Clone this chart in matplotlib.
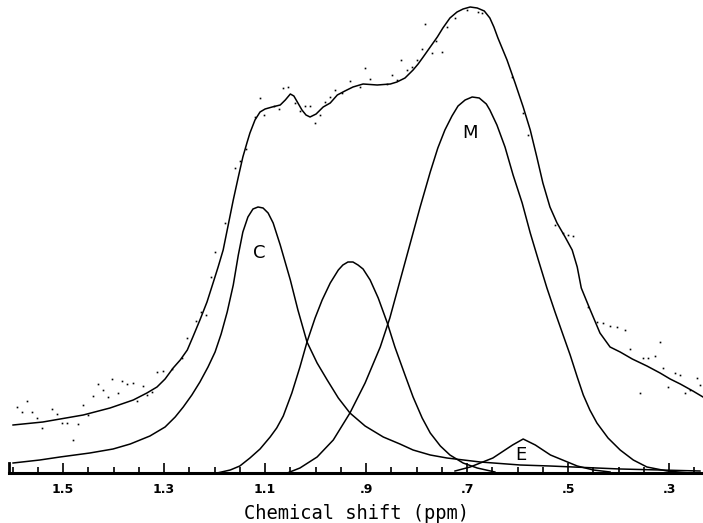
import matplotlib
matplotlib.use("Agg")
import matplotlib.pyplot as plt
from matplotlib.ticker import MultipleLocator, FixedLocator

# chemical shift (ppm) and intensity (arbitrary units)

# fitted total envelope
fit_ppm = [1.599, 1.540, 1.460, 1.407, 1.361, 1.334, 1.314, 1.298, 1.282, 1.268,
           1.254, 1.243, 1.229, 1.215, 1.203, 1.193, 1.183, 1.173, 1.163, 1.153,
           1.144, 1.136, 1.130, 1.120, 1.110, 1.100, 1.086, 1.070, 1.060, 1.050,
           1.043, 1.035, 1.027, 1.019, 1.011, 0.999, 0.985, 0.971, 0.957, 0.942,
           0.926, 0.906, 0.878, 0.852, 0.839, 0.823, 0.807, 0.797, 0.787, 0.773,
           0.759, 0.748, 0.734, 0.720, 0.708, 0.694, 0.680, 0.666, 0.655, 0.647,
           0.639, 0.621, 0.605, 0.589, 0.575, 0.562, 0.550, 0.536, 0.522, 0.506,
           0.492, 0.482, 0.474, 0.457, 0.437, 0.417, 0.397, 0.373, 0.344, 0.318,
           0.298, 0.278, 0.253, 0.233]
fit_int = [48, 51, 58, 65, 73, 80, 86, 94, 105, 113,
           123, 136, 153, 171, 190, 206, 223, 248, 273, 296,
           316, 330, 340, 353, 361, 364, 366, 368, 373, 379,
           377, 370, 363, 358, 356, 359, 366, 370, 378, 382,
           386, 389, 388, 389, 391, 395, 403, 409, 416, 426,
           436, 445, 455, 461, 464, 466, 465, 462, 455, 446,
           435, 413, 390, 366, 343, 316, 290, 266, 250, 236,
           223, 206, 185, 164, 140, 126, 121, 114, 107, 100,
           94, 89, 82, 76]

# component C
c_ppm = [1.599, 1.546, 1.506, 1.447, 1.401, 1.367, 1.328, 1.298, 1.278, 1.262,
         1.245, 1.229, 1.213, 1.199, 1.187, 1.175, 1.163, 1.153, 1.144, 1.134,
         1.124, 1.114, 1.104, 1.094, 1.084, 1.070, 1.050, 1.035, 1.017, 0.997,
         0.977, 0.955, 0.932, 0.902, 0.866, 0.833, 0.807, 0.773, 0.740, 0.674,
         0.595, 0.536, 0.397, 0.239]
c_int = [10, 13, 16, 20, 24, 29, 37, 46, 56, 66,
         78, 91, 106, 121, 139, 161, 188, 218, 241, 256,
         264, 266, 265, 260, 250, 228, 193, 163, 131, 110,
         93, 75, 60, 47, 36, 29, 23, 18, 15, 11,
         8, 7, 4, 2]

# unlabelled middle component
b_ppm = [1.195, 1.169, 1.150, 1.130, 1.110, 1.090, 1.077, 1.064, 1.047, 1.031,
         1.017, 1.001, 0.987, 0.971, 0.955, 0.946, 0.936, 0.926, 0.916, 0.906,
         0.892, 0.876, 0.858, 0.843, 0.823, 0.807, 0.789, 0.773, 0.753, 0.734,
         0.708, 0.680, 0.645]
b_int = [0, 3, 7, 15, 24, 36, 45, 57, 80, 106,
         131, 155, 173, 190, 203, 208, 211, 211, 208, 204,
         193, 175, 150, 126, 98, 76, 55, 40, 27, 18,
         10, 5, 1]

# component M
m_ppm = [1.056, 1.031, 0.997, 0.965, 0.932, 0.902, 0.872, 0.853, 0.833, 0.813,
         0.793, 0.773, 0.758, 0.744, 0.730, 0.718, 0.704, 0.690, 0.676, 0.662,
         0.655, 0.641, 0.625, 0.609, 0.591, 0.575, 0.559, 0.542, 0.526, 0.510,
         0.496, 0.482, 0.470, 0.457, 0.443, 0.421, 0.397, 0.371, 0.344, 0.304,
         0.259]
m_int = [0, 5, 16, 33, 60, 90, 126, 155, 192, 229,
         266, 301, 325, 343, 357, 367, 373, 376, 375, 369,
         363, 348, 326, 298, 270, 240, 213, 185, 161, 138,
         118, 96, 78, 63, 50, 35, 23, 13, 6, 2,
         0]

# component E
e_ppm = [0.724, 0.694, 0.649, 0.610, 0.589, 0.565, 0.535, 0.482, 0.450, 0.417]
e_int = [2, 6, 15, 28, 34, 28, 18, 7, 3, 1]

# experimental points
dot_ppm = [1.591, 1.581, 1.571, 1.561, 1.551, 1.542, 1.522, 1.512, 1.502, 1.492,
           1.480, 1.470, 1.460, 1.450, 1.441, 1.431, 1.421, 1.411, 1.403, 1.391,
           1.383, 1.373, 1.361, 1.353, 1.342, 1.334, 1.324, 1.314, 1.302, 1.284,
           1.264, 1.254, 1.237, 1.227, 1.217, 1.207, 1.199, 1.179, 1.159, 1.150,
           1.138, 1.120, 1.110, 1.102, 1.082, 1.072, 1.064, 1.054, 1.041, 1.031,
           1.021, 1.011, 1.001, 0.991, 0.981, 0.971, 0.961, 0.948, 0.932, 0.912,
           0.902, 0.892, 0.858, 0.849, 0.839, 0.831, 0.819, 0.809, 0.799, 0.789,
           0.783, 0.769, 0.761, 0.750, 0.740, 0.724, 0.700, 0.678, 0.670, 0.611,
           0.589, 0.579, 0.526, 0.510, 0.500, 0.490, 0.460, 0.443, 0.431, 0.417,
           0.403, 0.387, 0.377, 0.357, 0.352, 0.342, 0.328, 0.318, 0.312, 0.302,
           0.288, 0.278, 0.268, 0.259, 0.245, 0.239]
dot_int = [66, 61, 72, 61, 55, 45, 64, 59, 50, 50,
           33, 49, 68, 58, 77, 89, 83, 76, 94, 80,
           92, 89, 90, 72, 87, 78, 81, 101, 102, 104,
           115, 135, 152, 161, 158, 196, 221, 250, 305, 312,
           324, 356, 375, 358, 367, 364, 385, 386, 370, 362,
           367, 367, 350, 358, 371, 376, 383, 380, 392, 386,
           405, 394, 389, 398, 393, 413, 403, 406, 413, 424,
           449, 420, 432, 421, 446, 455, 463, 461, 460, 396,
           360, 338, 248, 240, 238, 237, 166, 151, 150, 147,
           146, 143, 124, 80, 115, 115, 117, 131, 105, 86,
           100, 98, 80, 83, 95, 88]

tick_pos = [1.5, 1.3, 1.1, 0.9, 0.7, 0.5, 0.3]
tick_lab = ['1.5', '1.3', '1.1', '.9', '.7', '.5', '.3']

fig = plt.figure(figsize=(7.03, 5.23), dpi=100)
ax = fig.add_axes([9 / 703, 50 / 523, 694 / 703, 473 / 523])

for xs, ys in [(fit_ppm, fit_int), (c_ppm, c_int), (b_ppm, b_int),
               (m_ppm, m_int), (e_ppm, e_int)]:
    ax.plot(xs, ys, color='black', lw=1.1, solid_joinstyle='round')
ax.plot(dot_ppm, dot_int, linestyle='none', marker='s', markersize=1.2,
        color='black', markeredgewidth=0)

ax.text(1.112, 220, 'C', fontsize=13, ha='center', va='center')
ax.text(0.694, 340, 'M', fontsize=13, ha='center', va='center')
ax.text(0.593, 18, 'E', fontsize=13, ha='center', va='center')

ax.set_xlim(1.607, 0.233)
ax.set_ylim(0, 473)

for side in ['top', 'right']:
    ax.spines[side].set_visible(False)
ax.spines['bottom'].set_linewidth(2.2)
ax.spines['left'].set_bounds(0, 10)
ax.spines['left'].set_linewidth(2.0)
ax.set_yticks([])

ax.xaxis.set_major_locator(FixedLocator(tick_pos))
ax.set_xticklabels(tick_lab, fontsize=9, fontweight='bold')
ax.xaxis.set_minor_locator(MultipleLocator(0.05))
ax.tick_params(axis='x', which='major', direction='in', length=7, width=1.2, pad=7)
ax.tick_params(axis='x', which='minor', direction='in', length=4, width=1.2)

ax.set_xlabel('Chemical shift (ppm)', fontsize=13.5, family='DejaVu Sans Mono',
              labelpad=6)

fig.savefig('out.png', dpi=100)
